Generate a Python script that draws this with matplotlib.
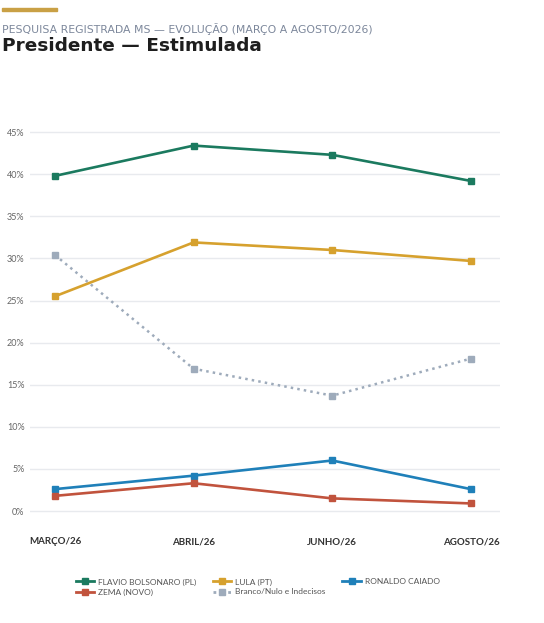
import matplotlib as mpl
import matplotlib.pyplot as plt
from matplotlib.lines import Line2D

meses = ['MARÇO/26', 'ABRIL/26', 'JUNHO/26', 'AGOSTO/26']
flavio = [39.8, 43.4, 42.3, 39.2]
lula = [25.5, 31.9, 31.0, 29.7]
caiado = [2.6, 4.2, 6.0, 2.6]
zema = [1.8, 3.3, 1.5, 0.9]
brancos = [30.4, 16.9, 13.7, 18.1]
yticks = [0, 5, 10, 15, 20, 25, 30, 35, 40, 45]

series = [
    ('FLAVIO BOLSONARO (PL)', flavio, '#1b7a5f', '-'),
    ('LULA (PT)', lula, '#d6a12e', '-'),
    ('RONALDO CAIADO', caiado, '#1f80b9', '-'),
    ('ZEMA (NOVO)', zema, '#c1533d', '-'),
    ('Branco/Nulo e Indecisos', brancos, '#9eabbb', ':'),
]

dpi = 100
fig = plt.figure(dpi=dpi, figsize=(544 / dpi, 623 / dpi))
mpl.rcParams.update({'font.family': 'Lato'})

# gold bar + headings
fig.add_artist(plt.Rectangle((2 / 544, 1 - 11 / 623), 55 / 544, 3 / 623,
                             transform=fig.transFigure, color='#c9a045'))
fig.text(2 / 544, 1 - 29 / 623, 'PESQUISA REGISTRADA MS — EVOLUÇÃO (MARÇO A AGOSTO/2026)',
         fontsize=7.8, family='DejaVu Sans', color='#7c879b', va='center', ha='left')
fig.text(2 / 544, 1 - 46 / 623, 'Presidente — Estimulada', family='DejaVu Sans',
         fontsize=13.3, fontweight='bold', color='#1e1e1e', va='center', ha='left')

ax = fig.add_axes([30 / 544, 1 - 525 / 623, 470 / 544, 395 / 623])
xs = range(len(meses))
for name, vals, color, ls in series:
    ax.plot(xs, vals, color=color, linestyle=ls, linewidth=1.9 if ls == '-' else 1.8,
            marker='s', markersize=4, zorder=3)

ax.set_xlim(-0.18, 3.21)
ax.set_ylim(-1.66, 45.25)
ax.set_yticks(yticks)
ax.set_yticklabels(['%d%%' % v for v in yticks], fontsize=6.5, color='#666666')
ax.set_xticks(list(xs))
ax.set_xticklabels(meses, fontsize=7, fontweight='bold', color='#333333')
ax.tick_params(axis='y', length=0, pad=4)
ax.tick_params(axis='x', length=0, pad=9)
ax.grid(axis='y', color='#e8eaee', linewidth=1)
for s in ax.spines.values():
    s.set_visible(False)

handles = [Line2D([], [], color=c, linestyle=ls, linewidth=2, marker='s', markersize=4)
           for _, _, c, ls in series]
labels = [s[0] for s in series]
order = [0, 3, 1, 4, 2]
fig.legend([handles[i] for i in order], [labels[i] for i in order],
           ncol=3, loc='center left', bbox_to_anchor=(68 / 544, 1 - 587 / 623),
           frameon=False, fontsize=6, handlelength=2.2, columnspacing=2.0,
           labelspacing=0.35, handletextpad=0.5, labelcolor='#555555')

fig.savefig('out.png', dpi=dpi)
